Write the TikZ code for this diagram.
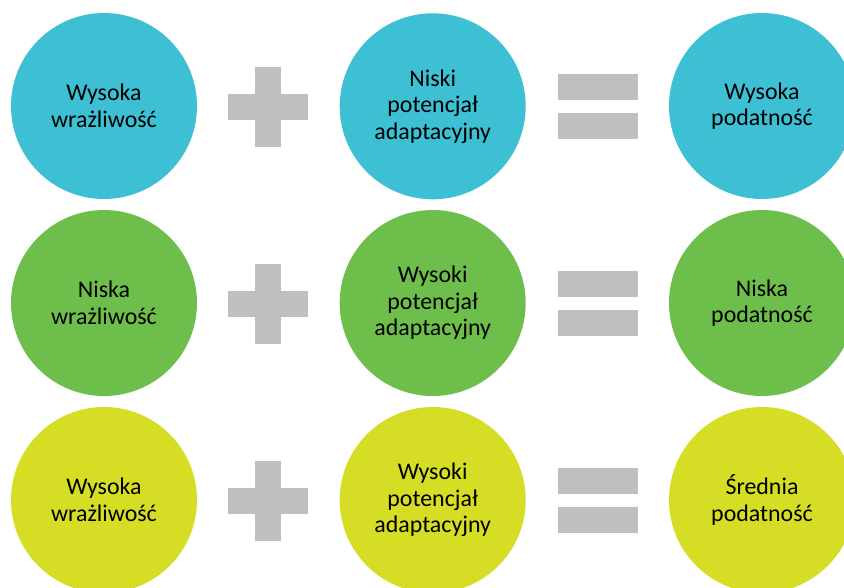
\documentclass[tikz,border=0pt]{standalone}
\usepackage{fontspec}
\setmainfont{Carlito}
\definecolor{cCyan}{HTML}{3DC0D3}
\definecolor{cGreen}{HTML}{6EBE4C}
\definecolor{cYellow}{HTML}{D5DE24}
\definecolor{cGray}{HTML}{BFBFBF}
\tikzset{
  bubble/.style={circle, minimum size=186pt, inner sep=0pt, align=center, text=black,
    font=\fontsize{23.9}{26.5}\selectfont},
  bar/.style={rectangle, fill=cGray, inner sep=0pt},
}
\begin{document}
\begin{tikzpicture}[x=1pt,y=-1pt]
\useasboundingbox (0,0) rectangle (844,587);
\begin{scope}
\clip (0,0) rectangle (844,587);
% row 1
\node[bubble, fill=cCyan] (a1) at (104,106) {Wysoka\\wrażliwość};
\node[bubble, fill=cCyan] (b1) at (432.7,106.3) {Niski\\potencjał\\adaptacyjny};
\node[bubble, fill=cCyan] (c1) at (762,106) {Wysoka\\podatność};
% row 2
\node[bubble, fill=cGreen] (a2) at (104,303) {Niska\\wrażliwość};
\node[bubble, fill=cGreen] (b2) at (432.7,303) {Wysoki\\potencjał\\adaptacyjny};
\node[bubble, fill=cGreen] (c2) at (762,303) {Niska\\podatność};
% row 3
\node[bubble, fill=cYellow] (a3) at (104,500) {Wysoka\\wrażliwość};
\node[bubble, fill=cYellow] (b3) at (432.7,500) {Wysoki\\potencjał\\adaptacyjny};
\node[bubble, fill=cYellow] (c3) at (762,500) {Średnia\\podatność};
\end{scope}
% plus and equals signs
\foreach \r/\y in {1/106.5,2/303.5,3/500.5}{
  \node[bar, minimum width=80pt, minimum height=26pt] (ph\r) at (268,\y) {};
  \node[bar, minimum width=26pt, minimum height=80pt] (pv\r) at (268,\y) {};
  \node[bar, minimum width=80pt, minimum height=26pt] (et\r) at (597.5,\y-19.5) {};
  \node[bar, minimum width=80pt, minimum height=26pt] (eb\r) at (597.5,\y+19.5) {};
}
\end{tikzpicture}
\end{document}
